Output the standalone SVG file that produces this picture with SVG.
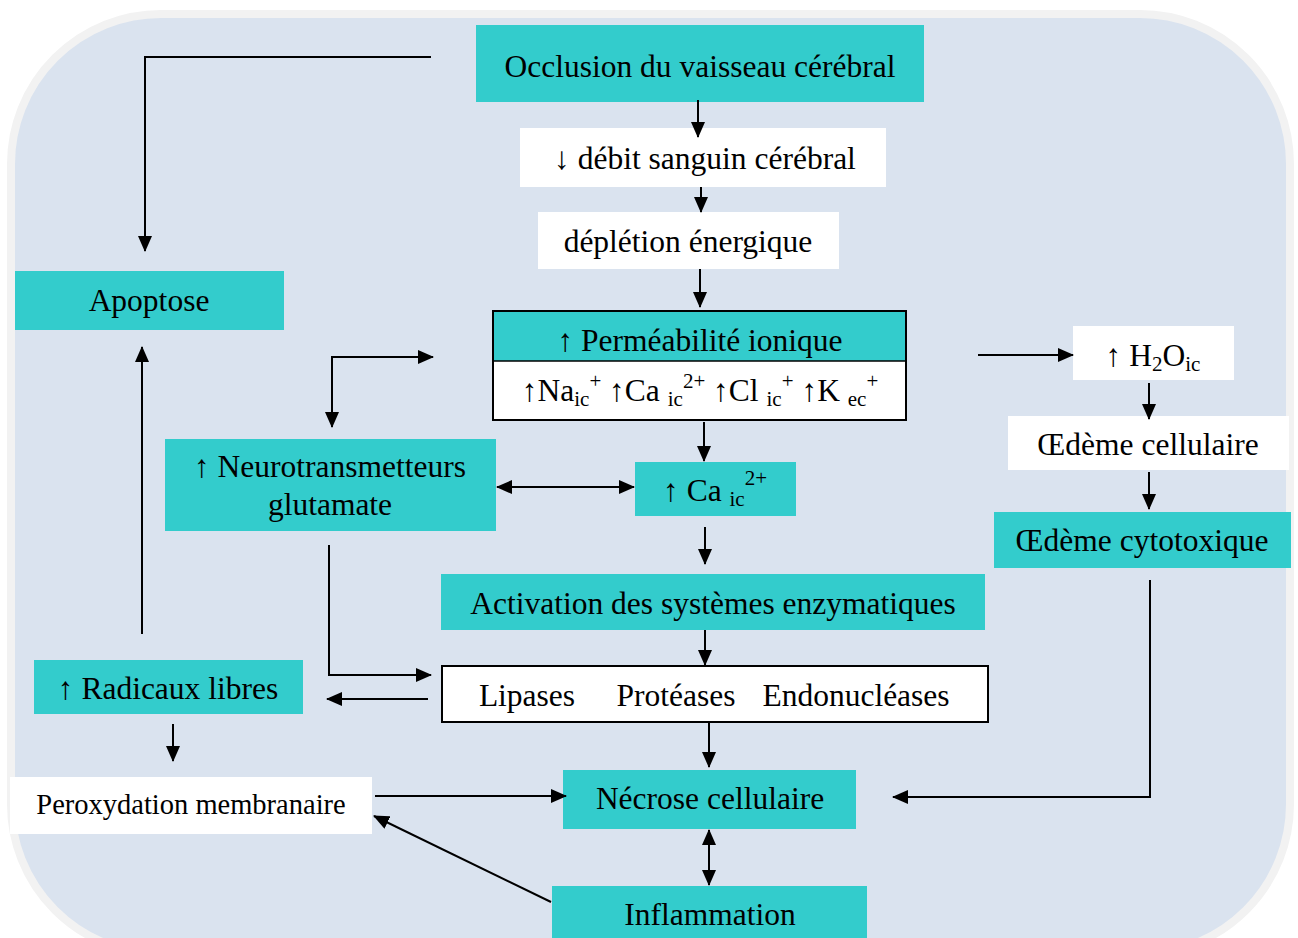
<svg xmlns="http://www.w3.org/2000/svg" width="1298" height="938" viewBox="0 0 1298 938">
<defs>
<marker id="ah" markerUnits="userSpaceOnUse" markerWidth="16" markerHeight="14" refX="15" refY="7" orient="auto-start-reverse" viewBox="0 0 16 14">
<path d="M0,0 L16,7 L0,14 Z" fill="#000"/>
</marker>
<style>
.t{font-family:"Liberation Serif","Times New Roman",serif;font-size:31.5px;fill:#000;text-anchor:middle}
.teal{fill:#33CCCC}
.wh{fill:#FFFFFF}
.c{fill:none;stroke:#000;stroke-width:2}
.s{font-size:21px}
</style>
</defs>
<rect x="11" y="14" width="1279" height="940" rx="150" ry="150" fill="#DAE3EF" stroke="#F2F2F2" stroke-width="8"/>

<g id="occlusion"><rect class="teal" x="476" y="25" width="448" height="77"/><text class="t" x="700" y="77">Occlusion du vaisseau cérébral</text></g>
<g id="debit"><rect class="wh" x="520" y="128" width="366" height="59"/><text class="t" x="705" y="169">↓ débit sanguin cérébral</text></g>
<g id="depletion"><rect class="wh" x="538" y="212" width="301" height="57"/><text class="t" x="688" y="252">déplétion énergique</text></g>
<g id="permeabilite"><rect class="teal" x="493" y="311" width="413" height="50"/><rect class="wh" x="493" y="361" width="413" height="59"/><rect x="493" y="311" width="413" height="109" fill="none" stroke="#000" stroke-width="2"/><line x1="493" y1="361" x2="906" y2="361" stroke="#000" stroke-width="1.5"/>
<text class="t" x="700" y="351">↑ Perméabilité ionique</text>
<text class="t" x="700" y="401">↑Na<tspan class="s" dy="5">ic</tspan><tspan class="s" dy="-18">+</tspan><tspan dy="13"> ↑Ca </tspan><tspan class="s" dy="5">ic</tspan><tspan class="s" dy="-18">2+</tspan><tspan dy="13"> ↑Cl </tspan><tspan class="s" dy="5">ic</tspan><tspan class="s" dy="-18">+</tspan><tspan dy="13"> ↑K </tspan><tspan class="s" dy="5">ec</tspan><tspan class="s" dy="-18">+</tspan></text></g>
<g id="h2o"><rect class="wh" x="1073" y="326" width="161" height="54"/><text class="t" x="1153" y="366">↑ H<tspan class="s" dy="5">2</tspan><tspan dy="-5">O</tspan><tspan class="s" dy="5">ic</tspan></text></g>
<g id="oedeme-cell"><rect class="wh" x="1008" y="416" width="281" height="54"/><text class="t" x="1148" y="455">Œdème cellulaire</text></g>
<g id="oedeme-cyto"><rect class="teal" x="994" y="512" width="297" height="56"/><text class="t" x="1142" y="551">Œdème cytotoxique</text></g>
<g id="apoptose"><rect class="teal" x="15" y="271" width="269" height="59"/><text class="t" x="149" y="311">Apoptose</text></g>
<g id="neuro"><rect class="teal" x="165" y="439" width="331" height="92"/><text class="t" x="330" y="477">↑ Neurotransmetteurs</text><text class="t" x="330" y="515">glutamate</text></g>
<g id="ca"><rect class="teal" x="635" y="462" width="161" height="54"/><text class="t" x="715" y="501">↑ Ca <tspan class="s" dy="5">ic</tspan><tspan class="s" dy="-21">2+</tspan></text></g>
<g id="activation"><rect class="teal" x="441" y="574" width="544" height="56"/><text class="t" x="713" y="614">Activation des systèmes enzymatiques</text></g>
<g id="enzymes"><rect class="wh" x="442" y="666" width="546" height="56" stroke="#000" stroke-width="2"/><text class="t" x="527" y="706">Lipases</text><text class="t" x="676" y="706">Protéases</text><text class="t" x="856" y="706">Endonucléases</text></g>
<g id="radicaux"><rect class="teal" x="34" y="660" width="269" height="54"/><text class="t" x="168" y="699">↑ Radicaux libres</text></g>
<g id="peroxydation"><rect class="wh" x="10" y="777" width="362" height="57"/><text class="t" x="191" y="814" style="font-size:28.5px">Peroxydation membranaire</text></g>
<g id="necrose"><rect class="teal" x="563" y="770" width="293" height="59"/><text class="t" x="710" y="809">Nécrose cellulaire</text></g>
<g id="inflammation"><rect class="teal" x="552" y="886" width="315" height="60"/><text class="t" x="710" y="925">Inflammation</text></g>

<g id="connectors">
<path class="c" d="M431,57 H145 V251" marker-end="url(#ah)"/>
<path class="c" d="M698,100 V137" marker-end="url(#ah)"/>
<path class="c" d="M701,187 V212" marker-end="url(#ah)"/>
<path class="c" d="M700,269 V307" marker-end="url(#ah)"/>
<path class="c" d="M704,422 V461" marker-end="url(#ah)"/>
<path class="c" d="M705,527 V564" marker-end="url(#ah)"/>
<path class="c" d="M705,630 V665" marker-end="url(#ah)"/>
<path class="c" d="M709,722 V767" marker-end="url(#ah)"/>
<path class="c" d="M709,830 V885" marker-start="url(#ah)" marker-end="url(#ah)"/>
<path class="c" d="M497,487 H634" marker-start="url(#ah)" marker-end="url(#ah)"/>
<path class="c" d="M433,357 H332 V427" marker-start="url(#ah)" marker-end="url(#ah)"/>
<path class="c" d="M978,355 H1073" marker-end="url(#ah)"/>
<path class="c" d="M1149,383 V419" marker-end="url(#ah)"/>
<path class="c" d="M1149,472 V509" marker-end="url(#ah)"/>
<path class="c" d="M1150,580 V797 H893" marker-end="url(#ah)"/>
<path class="c" d="M329,545 V675 H431" marker-end="url(#ah)"/>
<path class="c" d="M428,699 H327" marker-end="url(#ah)"/>
<path class="c" d="M142,634 V347" marker-end="url(#ah)"/>
<path class="c" d="M173,724 V761" marker-end="url(#ah)"/>
<path class="c" d="M375,796 H566" marker-end="url(#ah)"/>
<path class="c" d="M551,902 L374,816" marker-end="url(#ah)"/>
</g>
</svg>
